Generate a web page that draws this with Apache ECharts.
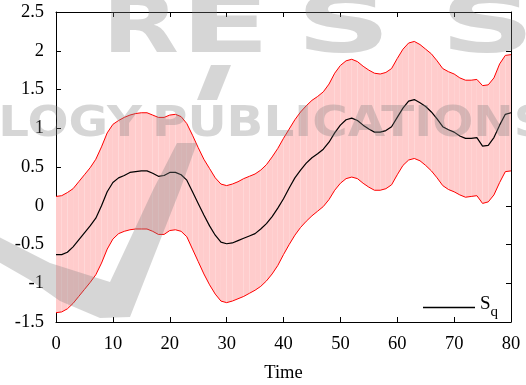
<!DOCTYPE html>
<html>
<head>
<meta charset="utf-8">
<script src="https://cdn.jsdelivr.net/npm/echarts@6/dist/echarts.min.js"></script>
<style>
  html, body { margin: 0; padding: 0; background: #ffffff; }
  #chart { width: 526px; height: 385px; }
</style>
</head>
<body>
<div id="chart"></div>
<script>
// Sample times
const time = [
  0, 1, 2, 3, 4, 5, 6, 7, 8, 9,
  10, 11, 12, 13, 14, 15, 16, 17, 18, 19,
  20, 21, 22, 23, 24, 25, 26, 27, 28, 29,
  30, 31, 32, 33, 34, 35, 36, 37, 38, 39,
  40, 41, 42, 43, 44, 45, 46, 47, 48, 49,
  50, 51, 52, 53, 54, 55, 56, 57, 58, 59,
  60, 61, 62, 63, 64, 65, 66, 67, 68, 69,
  70, 71, 72, 73, 74, 75, 76, 77, 78, 79,
  80
];

// Mean trajectory S_q
const mean = [
  -0.63, -0.63, -0.60, -0.53, -0.44, -0.35, -0.26, -0.16, 0.00, 0.18,
  0.30, 0.36, 0.39, 0.43, 0.44, 0.45, 0.45, 0.42, 0.38, 0.39,
  0.43, 0.43, 0.40, 0.33, 0.18, 0.03, -0.12, -0.26, -0.38, -0.47,
  -0.49, -0.48, -0.45, -0.42, -0.39, -0.36, -0.30, -0.23, -0.14, -0.03,
  0.09, 0.23, 0.36, 0.46, 0.55, 0.62, 0.67, 0.73, 0.82, 0.94,
  1.04, 1.11, 1.13, 1.10, 1.04, 0.99, 0.95, 0.95, 0.97, 1.02,
  1.14, 1.26, 1.35, 1.37, 1.33, 1.28, 1.21, 1.12, 1.02, 0.98,
  0.95, 0.90, 0.87, 0.87, 0.88, 0.77, 0.78, 0.88, 1.04, 1.18,
  1.20
];

// Upper edge of the band
const upper = [
  0.12, 0.13, 0.17, 0.22, 0.31, 0.40, 0.49, 0.60, 0.76, 0.94,
  1.05, 1.10, 1.14, 1.17, 1.19, 1.20, 1.20, 1.17, 1.14, 1.14,
  1.17, 1.18, 1.15, 1.06, 0.91, 0.75, 0.60, 0.48, 0.36, 0.28,
  0.26, 0.28, 0.31, 0.35, 0.38, 0.41, 0.46, 0.53, 0.63, 0.74,
  0.87, 0.99, 1.11, 1.21, 1.29, 1.36, 1.41, 1.47, 1.57, 1.71,
  1.81, 1.87, 1.89, 1.86, 1.80, 1.75, 1.71, 1.70, 1.72, 1.77,
  1.90, 2.02, 2.10, 2.12, 2.08, 2.02, 1.96, 1.87, 1.77, 1.73,
  1.70, 1.65, 1.62, 1.62, 1.63, 1.55, 1.56, 1.65, 1.83, 1.94,
  1.95
];

// Lower edge of the band
const lower = [
  -1.38, -1.37, -1.33, -1.26, -1.17, -1.08, -0.99, -0.89, -0.74, -0.56,
  -0.43, -0.36, -0.33, -0.31, -0.30, -0.30, -0.30, -0.33, -0.37, -0.37,
  -0.32, -0.31, -0.33, -0.40, -0.56, -0.72, -0.88, -1.02, -1.14, -1.23,
  -1.25, -1.23, -1.20, -1.17, -1.13, -1.09, -1.04, -0.97, -0.88, -0.77,
  -0.63, -0.50, -0.38, -0.28, -0.20, -0.13, -0.07, -0.01, 0.08, 0.20,
  0.29, 0.35, 0.37, 0.35, 0.29, 0.24, 0.20, 0.20, 0.22, 0.27,
  0.40, 0.52, 0.59, 0.61, 0.58, 0.52, 0.45, 0.36, 0.26, 0.21,
  0.18, 0.14, 0.11, 0.12, 0.13, 0.03, 0.05, 0.14, 0.30, 0.44,
  0.45
];

// Axis ticks
const xTicks = [0, 10, 20, 30, 40, 50, 60, 70, 80];
const yTicks = [-1.5, -1, -0.5, 0, 0.5, 1, 1.5, 2, 2.5];

const FONT = '"Liberation Serif", "Times New Roman", serif';
const WM = 'rgba(128,128,128,0.32)';
const WM_FONT = '"DejaVu Sans", sans-serif';

const chart = echarts.init(document.getElementById('chart'), null, { renderer: 'canvas' });

function axisCommon(extra) {
  return Object.assign({
    type: 'value',
    axisLine: { show: true, onZero: false, lineStyle: { color: '#000', width: 1 } },
    axisTick: { show: true, inside: true, length: 5, lineStyle: { color: '#000', width: 1 } },
    splitLine: { show: false }
  }, extra);
}

const xStep = xTicks[1] - xTicks[0];
const yStep = yTicks[1] - yTicks[0];
const xRange = { min: xTicks[0], max: xTicks[xTicks.length - 1], interval: xStep };
const yRange = { min: yTicks[0], max: yTicks[yTicks.length - 1], interval: yStep };

// Publisher mark in the background: [glyph, left x, horizontal stretch]
const topLetters = [['P', -100, 1.65], ['R', 102, 1.25], ['E', 180, 1.65], ['S', 296, 1.65], ['S', 440, 1.65]];

const graphic = [];
topLetters.forEach(function (p) {
  graphic.push({
    type: 'text', x: p[1], y: 31, scaleX: p[2], scaleY: 1, originX: 0, originY: 0,
    silent: true, z: 100,
    style: { text: p[0], x: 0, y: 0, fill: WM, font: 'bold 80px ' + WM_FONT, align: 'left', verticalAlign: 'middle' }
  });
});
graphic.push({
  type: 'text', x: 142, y: 125, scaleX: 1.15, scaleY: 1, originX: 0, originY: 0,
  silent: true, z: 100,
  style: { text: 'SCIENCE AND TECHNOLOGY', x: 0, y: 0, fill: WM, font: 'bold 42px ' + WM_FONT, align: 'right', verticalAlign: 'middle' }
});
graphic.push({
  type: 'text', x: 152, y: 125, scaleX: 1.15, scaleY: 1, originX: 0, originY: 0,
  silent: true, z: 100,
  style: { text: 'PUBLICATIONS', x: 0, y: 0, fill: WM, font: 'bold 42px ' + WM_FONT, align: 'left', verticalAlign: 'middle' }
});
// Swoosh of the mark
graphic.push({
  type: 'polygon', silent: true, z: 100,
  shape: { points: [[-5, 235], [50, 263], [110, 282], [153, 190], [177, 143], [197, 143], [180, 190], [130, 317], [100, 318], [60, 301], [30, 280], [-5, 260]] },
  style: { fill: WM }
});
graphic.push({
  type: 'polygon', silent: true, z: 100,
  shape: { points: [[197, 100], [217, 100], [231, 65], [211, 65]] },
  style: { fill: WM }
});

const option = {
  animation: false,
  backgroundColor: '#ffffff',
  textStyle: { fontFamily: FONT, color: '#000' },
  grid: { left: 56, right: 15, top: 12, bottom: 63, containLabel: false, outerBoundsMode: 'none' },
  xAxis: [
    axisCommon(Object.assign({
      position: 'bottom',
      axisLabel: { show: true, color: '#000', fontFamily: FONT, fontSize: 18.5, margin: 13 },
      name: 'Time', nameLocation: 'middle', nameGap: 42,
      nameTextStyle: { color: '#000', fontFamily: FONT, fontSize: 18.5 }
    }, xRange)),
    axisCommon(Object.assign({ position: 'top', axisLabel: { show: false } }, xRange))
  ],
  yAxis: [
    axisCommon(Object.assign({
      position: 'left',
      axisLabel: { show: true, color: '#000', fontFamily: FONT, fontSize: 18.5, margin: 12 }
    }, yRange)),
    axisCommon(Object.assign({ position: 'right', axisLabel: { show: false } }, yRange))
  ],
  legend: {
    data: ['Sq'],
    left: 423, top: 295,
    padding: 0,
    icon: 'rect',
    itemWidth: 52, itemHeight: 1.3,
    itemStyle: { color: '#000' },
    formatter: '{s|S}{q|q}',
    textStyle: {
      color: '#000',
      rich: {
        s: { fontFamily: FONT, fontSize: 19, color: '#000', verticalAlign: 'bottom', padding: [0, 0, 6, 0] },
        q: { fontFamily: FONT, fontSize: 15, color: '#000', verticalAlign: 'bottom' }
      }
    }
  },
  graphic: graphic,
  series: [
    {
      name: 'band',
      type: 'custom',
      silent: true,
      data: time.map(function (t, i) { return [t, lower[i], upper[i]]; }),
      encode: { x: 0, y: [1, 2] },
      renderItem: function (params, api) {
        const i = params.dataIndex;
        if (i >= time.length - 1) return null;
        const pts = [
          api.coord([time[i], upper[i]]),
          api.coord([time[i + 1], upper[i + 1]]),
          api.coord([time[i + 1], lower[i + 1]]),
          api.coord([time[i], lower[i]])
        ];
        return { type: 'polygon', shape: { points: pts }, style: { fill: '#ffcccc' } };
      },
      z: 1
    },
    {
      name: 'upper', type: 'line', symbol: 'none', silent: true,
      data: time.map(function (t, i) { return [t, upper[i]]; }),
      lineStyle: { color: '#ff0000', width: 1 }, z: 2
    },
    {
      name: 'lower', type: 'line', symbol: 'none', silent: true,
      data: time.map(function (t, i) { return [t, lower[i]]; }),
      lineStyle: { color: '#ff0000', width: 1 }, z: 2
    },
    {
      name: 'Sq', type: 'line', symbol: 'none', silent: true,
      data: time.map(function (t, i) { return [t, mean[i]]; }),
      lineStyle: { color: '#000000', width: 1.2 },
      itemStyle: { color: '#000000' }, z: 3
    }
  ]
};

chart.setOption(option);
</script>
</body>
</html>
